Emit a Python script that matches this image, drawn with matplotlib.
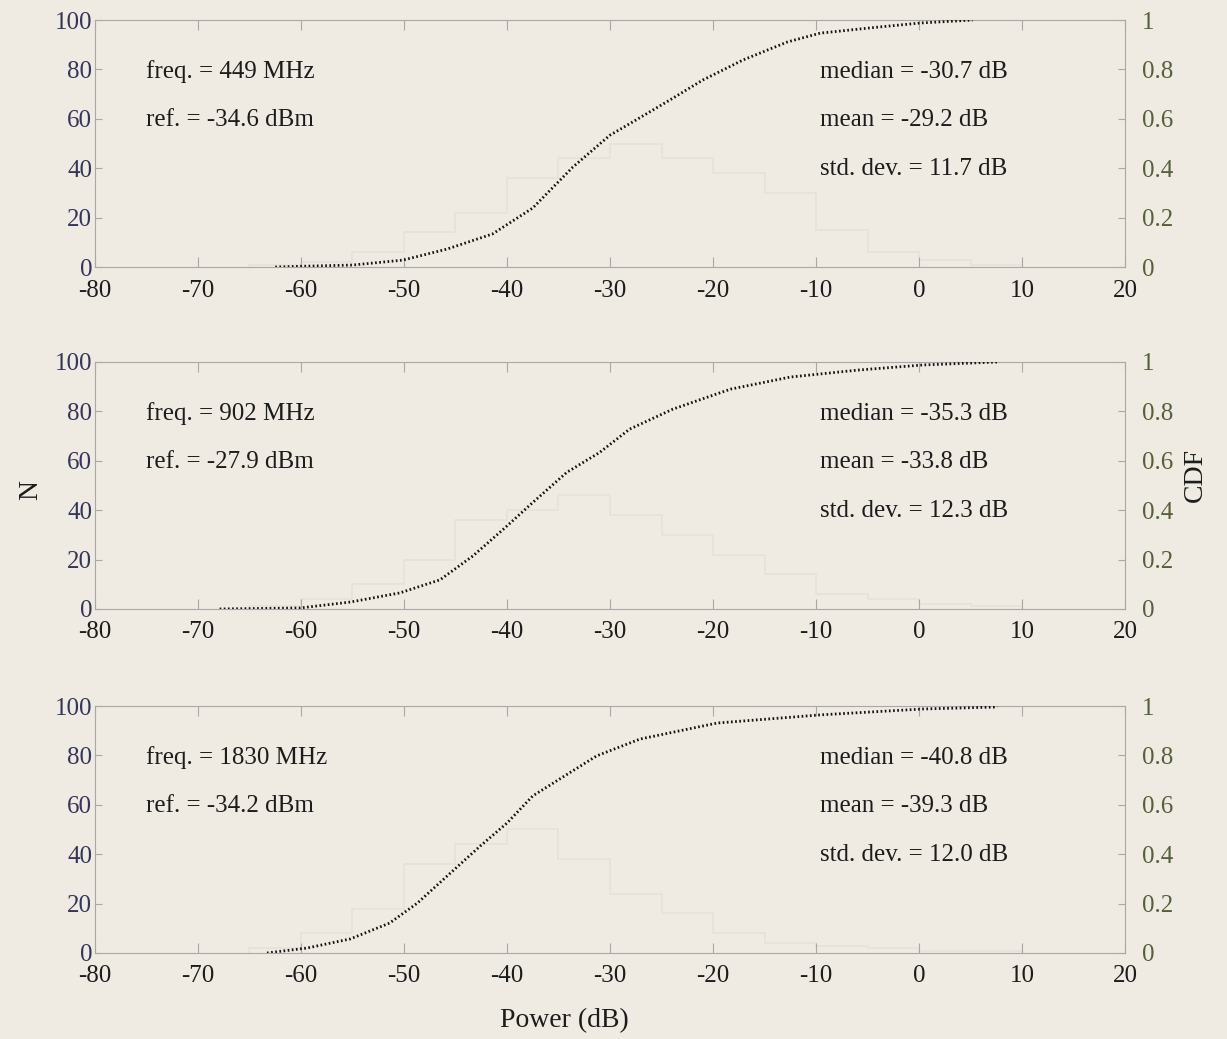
import numpy as np
import matplotlib.pyplot as plt

plt.rcParams['font.family'] = ['Liberation Serif', 'DejaVu Serif']
plt.rcParams['axes.unicode_minus'] = False

# ---------------------------------------------------------------
# data
# ---------------------------------------------------------------
freq_labels = ['freq. = 449 MHz', 'freq. = 902 MHz', 'freq. = 1830 MHz']
ref_labels = ['ref. = -34.6 dBm', 'ref. = -27.9 dBm', 'ref. = -34.2 dBm']
median_labels = ['median = -30.7 dB', 'median = -35.3 dB', 'median = -40.8 dB']
mean_labels = ['mean = -29.2 dB', 'mean = -33.8 dB', 'mean = -39.3 dB']
std_labels = ['std. dev. = 11.7 dB', 'std. dev. = 12.3 dB', 'std. dev. = 12.0 dB']

# CDF curves (power dB, cumulative fraction)
cdf1_x = [-62.5, -60, -55, -50.1, -45.8, -41.4, -37.5, -33.6, -30.0, -28.1,
          -24.2, -21.0, -17.1, -12.8, -9.6, -4.8, 0.1, 5.2]
cdf1_y = [0.0, 0.003, 0.008, 0.028, 0.073, 0.134, 0.239, 0.405, 0.534, 0.58,
          0.676, 0.757, 0.838, 0.911, 0.947, 0.968, 0.988, 1.0]

cdf2_x = [-67.9, -60.1, -55.2, -50.4, -46.5, -43.3, -40.4, -37.5, -34.2, -31.0,
          -28.1, -23.9, -18.3, -12.5, -6.0, 0.4, 7.6]
cdf2_y = [0.0, 0.004, 0.028, 0.065, 0.118, 0.215, 0.321, 0.431, 0.553, 0.634,
          0.728, 0.809, 0.89, 0.939, 0.967, 0.988, 1.0]

cdf3_x = [-63.3, -59.4, -55.2, -51.4, -48.7, -45.8, -42.6, -40.0, -37.5, -34.9,
          -31.3, -27.1, -19.6, -9.6, 0.4, 7.6]
cdf3_y = [0.0, 0.02, 0.057, 0.121, 0.202, 0.312, 0.433, 0.526, 0.636, 0.704,
          0.798, 0.866, 0.931, 0.964, 0.988, 0.996]

# faint histograms (counts per 5 dB bin)
hist_edges = [-65, -60, -55, -50, -45, -40, -35, -30, -25, -20, -15, -10, -5, 0, 5, 10]
hist1 = [1, 2, 6, 14, 22, 36, 44, 50, 44, 38, 30, 15, 6, 3, 1]
hist2 = [1, 4, 10, 20, 36, 40, 46, 38, 30, 22, 14, 6, 4, 2, 1]
hist3 = [2, 8, 18, 36, 44, 50, 38, 24, 16, 8, 4, 3, 2, 1, 1]

cdf_x = [cdf1_x, cdf2_x, cdf3_x]
cdf_y = [cdf1_y, cdf2_y, cdf3_y]
hists = [hist1, hist2, hist3]

# ---------------------------------------------------------------
# plot
# ---------------------------------------------------------------
bg = '#efebe3'
spine_c = '#a8a8a8'
left_c = '#35355a'
right_c = '#55603a'
txt_c = '#1c1c1c'
fs = 18

fig = plt.figure(figsize=(12.27, 10.39), dpi=100, facecolor=bg)

bottoms = [0.743, 0.4139, 0.0828]
for i in range(3):
    ax = fig.add_axes([0.0774, bottoms[i], 0.8395, 0.2377])
    ax.set_facecolor(bg)
    ax.stairs(hists[i], hist_edges, color='#e6e2da', lw=1.2)
    ax.set_xlim(-80, 20)
    ax.set_ylim(0, 100)
    ax.set_xticks(np.arange(-80, 21, 10))
    ax.set_yticks(np.arange(0, 101, 20))
    ax.tick_params(axis='x', direction='in', length=7, color=spine_c,
                   labelsize=fs, labelcolor=txt_c, pad=9, top=True)
    ax.tick_params(axis='y', direction='in', length=5, color=spine_c,
                   labelsize=fs, labelcolor=left_c, pad=2)
    for s in ax.spines.values():
        s.set_color(spine_c)
        s.set_linewidth(0.8)

    ax2 = ax.twinx()
    ax2.plot(cdf_x[i], cdf_y[i], color='#111111', lw=2.0,
             ls=(0, (0.6, 0.9)))
    ax2.set_ylim(0, 1)
    ax2.set_yticks([0, 0.2, 0.4, 0.6, 0.8, 1])
    ax2.set_yticklabels(['0', '0.2', '0.4', '0.6', '0.8', '1'])
    ax2.tick_params(axis='y', direction='in', length=5, color=spine_c,
                    labelsize=fs, labelcolor=right_c, pad=12)
    for s in ax2.spines.values():
        s.set_visible(False)

    ax.text(-75, 79, freq_labels[i], fontsize=fs, color=txt_c, va='center')
    ax.text(-75, 59.5, ref_labels[i], fontsize=fs, color=txt_c, va='center')
    ax.text(-9.6, 79, median_labels[i], fontsize=fs, color=txt_c, va='center')
    ax.text(-9.6, 59.5, mean_labels[i], fontsize=fs, color=txt_c, va='center')
    ax.text(-9.6, 39.5, std_labels[i], fontsize=fs, color=txt_c, va='center')

fig.text(0.025, 0.528, 'N', rotation=90, fontsize=fs + 2, color=txt_c,
         ha='center', va='center')
fig.text(0.974, 0.543, 'CDF', rotation=90, fontsize=fs + 2, color=txt_c,
         ha='center', va='center')
fig.text(0.46, 0.018, 'Power (dB)', fontsize=fs + 2, color=txt_c,
         ha='center', va='center')

fig.savefig('out.png', dpi=100, facecolor=bg)
